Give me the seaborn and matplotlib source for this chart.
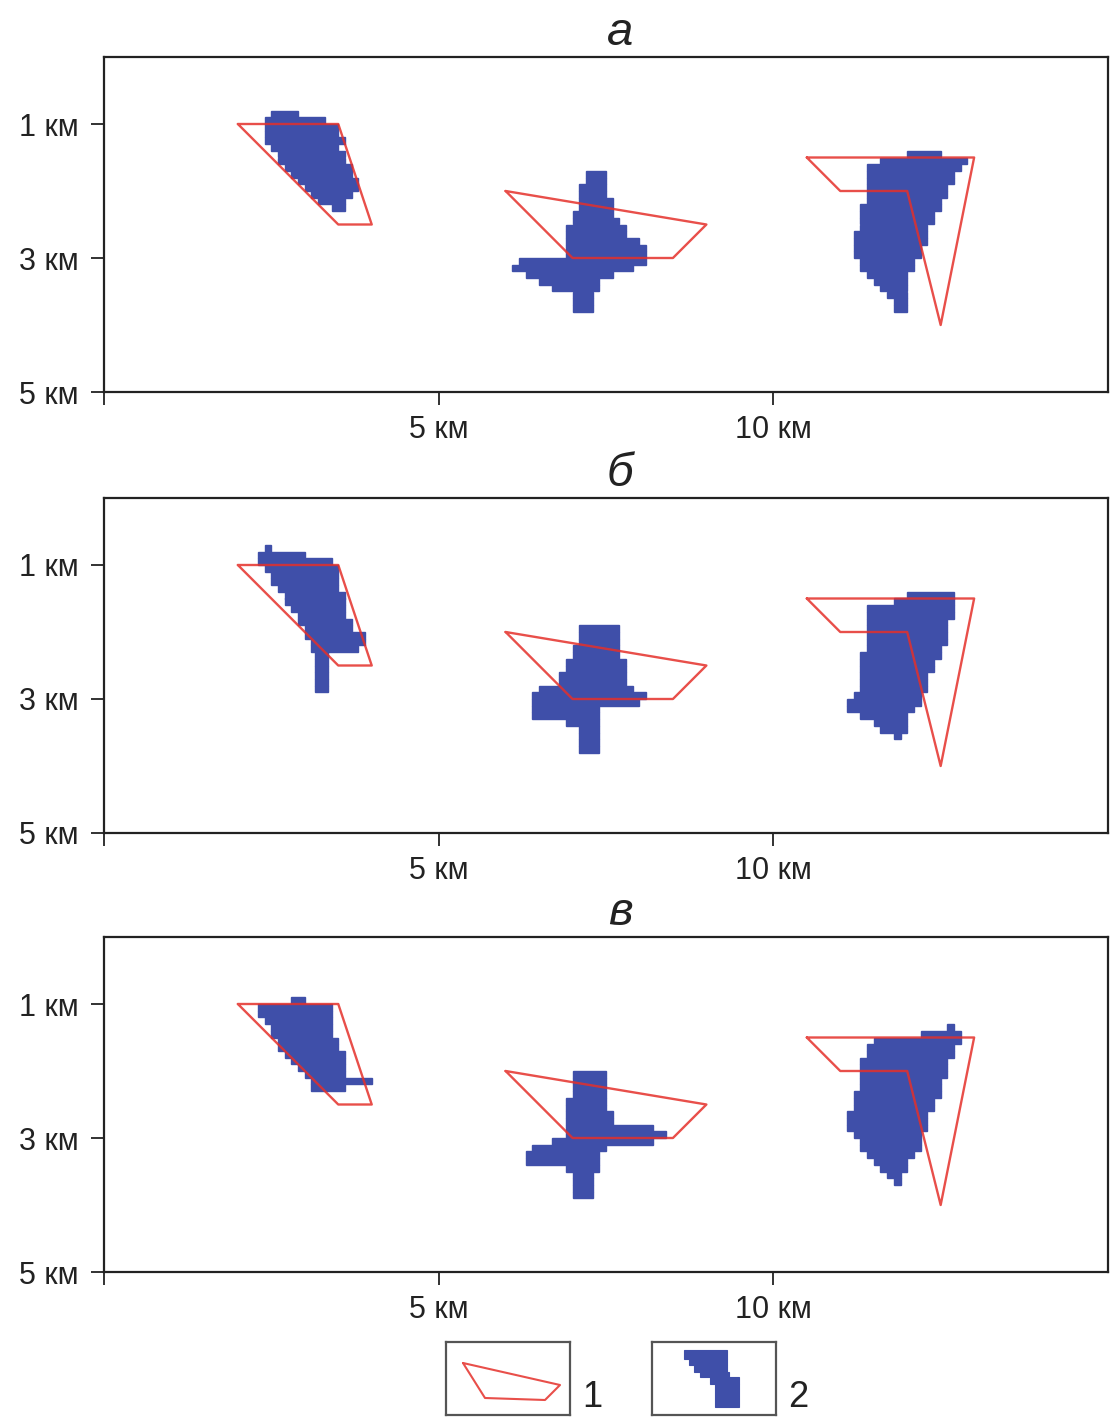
import numpy as np
import matplotlib
matplotlib.use('Agg')
import matplotlib.pyplot as plt
import seaborn as sns

# style
sns.set_style('white')
plt.rcParams['font.family'] = ['Liberation Sans', 'DejaVu Sans']

RED = '#e5302a'
BLUE = '#3f4fa9'
INK = '#222222'

# ---- model bodies (red outlines), km; same in every panel ----
body1_x = [2, 3.5, 4, 3.5, 2]
body1_z = [1, 1, 2.5, 2.5, 1]
body2_x = [6, 9, 8.5, 7, 6]
body2_z = [2, 2.5, 3, 3, 2]
body3_x = [10.5, 13, 12.5, 12, 11, 10.5]
body3_z = [1.5, 1.5, 4, 2, 2, 1.5]

# ---- inversion results (blue cells), rows of 0.1 km: top depth, left/right edge ----
# panel a
a1_top = 0.8
a1_x0 = [2.5, 2.4, 2.4, 2.4, 2.4, 2.5, 2.6, 2.6, 2.7, 2.8, 2.9, 3.0, 3.1, 3.2, 3.4]
a1_x1 = [2.9, 3.3, 3.5, 3.5, 3.6, 3.5, 3.6, 3.6, 3.7, 3.7, 3.8, 3.8, 3.7, 3.6, 3.6]
a2_top = 1.7
a2_x0 = [7.2, 7.2, 7.1, 7.1, 7.1, 7.1, 7.0, 7.0, 6.9, 6.9, 6.9, 6.9, 6.9, 6.2, 6.1, 6.3, 6.5, 6.7, 7.0, 7.0, 7.0]
a2_x1 = [7.5, 7.5, 7.5, 7.5, 7.6, 7.6, 7.6, 7.7, 7.8, 7.8, 8.0, 8.1, 8.1, 8.1, 7.9, 7.6, 7.4, 7.4, 7.3, 7.3, 7.3]
a3_top = 1.4
a3_x0 = [12.0, 11.6, 11.4, 11.4, 11.4, 11.4, 11.4, 11.4, 11.3, 11.3, 11.3, 11.3,
         11.2, 11.2, 11.2, 11.2, 11.3, 11.3, 11.4, 11.5, 11.6, 11.7, 11.8, 11.8]
a3_x1 = [12.5, 12.9, 12.8, 12.7, 12.7, 12.6, 12.6, 12.5, 12.5, 12.4, 12.4, 12.3,
         12.3, 12.3, 12.2, 12.2, 12.1, 12.1, 12.0, 12.0, 12.0, 12.0, 12.0, 12.0]
# panel b
b1_top = 0.7
b1_x0 = [2.4, 2.3, 2.3, 2.4, 2.5, 2.5, 2.6, 2.7, 2.7, 2.8, 2.9, 2.9, 3.0, 3.0, 3.1, 3.1,
         3.15, 3.15, 3.15, 3.15, 3.15, 3.15]
b1_x1 = [2.5, 3.0, 3.4, 3.5, 3.5, 3.5, 3.5, 3.6, 3.6, 3.6, 3.6, 3.7, 3.7, 3.9, 3.9, 3.8,
         3.35, 3.35, 3.35, 3.35, 3.35, 3.35]
b2_top = 1.9
b2_x0 = [7.1, 7.1, 7.1, 7.0, 7.0, 6.9, 6.9, 6.8, 6.8, 6.5, 6.4, 6.4, 6.4, 6.4, 6.9, 7.1, 7.1, 7.1, 7.1]
b2_x1 = [7.7, 7.7, 7.7, 7.7, 7.7, 7.8, 7.8, 7.8, 7.8, 7.9, 8.1, 8.0, 7.4, 7.4, 7.4, 7.4, 7.4, 7.4, 7.4]
b3_top = 1.4
b3_x0 = [12.0, 11.8, 11.4, 11.4, 11.4, 11.4, 11.4, 11.4, 11.4, 11.3, 11.3,
         11.3, 11.3, 11.3, 11.3, 11.2, 11.1, 11.1, 11.3, 11.5, 11.6, 11.8]
b3_x1 = [12.7, 12.7, 12.7, 12.7, 12.6, 12.6, 12.6, 12.6, 12.5, 12.5, 12.4,
         12.4, 12.3, 12.3, 12.3, 12.2, 12.2, 12.1, 12.0, 12.0, 12.0, 11.9]
# panel v
v1_top = 0.9
v1_x0 = [2.8, 2.3, 2.3, 2.4, 2.5, 2.5, 2.6, 2.6, 2.7, 2.8, 2.9, 3.0, 3.1, 3.1]
v1_x1 = [3.0, 3.4, 3.4, 3.4, 3.4, 3.4, 3.5, 3.5, 3.6, 3.6, 3.6, 3.6, 4.0, 3.6]
v2_top = 2.0
v2_x0 = [7.0, 7.0, 7.0, 7.0, 6.9, 6.9, 6.9, 6.9, 6.9, 6.9, 6.7, 6.4, 6.3, 6.3, 6.9, 7.0, 7.0, 7.0, 7.0]
v2_x1 = [7.5, 7.5, 7.5, 7.5, 7.5, 7.5, 7.6, 7.6, 8.2, 8.4, 8.2, 7.5, 7.4, 7.4, 7.4, 7.3, 7.3, 7.3, 7.3]
v3_top = 1.3
v3_x0 = [12.6, 12.2, 11.5, 11.4, 11.4, 11.3, 11.3, 11.3, 11.3, 11.3, 11.2, 11.2,
         11.2, 11.1, 11.1, 11.1, 11.2, 11.3, 11.3, 11.4, 11.5, 11.6, 11.7, 11.8]
v3_x1 = [12.7, 12.8, 12.8, 12.7, 12.7, 12.6, 12.6, 12.6, 12.5, 12.5, 12.5, 12.4,
         12.4, 12.3, 12.3, 12.3, 12.2, 12.2, 12.2, 12.1, 12.0, 12.0, 11.9, 11.9]

panel_titles = ['а', 'б', 'в']
panel_shapes = [
    [(a1_top, a1_x0, a1_x1), (a2_top, a2_x0, a2_x1), (a3_top, a3_x0, a3_x1)],
    [(b1_top, b1_x0, b1_x1), (b2_top, b2_x0, b2_x1), (b3_top, b3_x0, b3_x1)],
    [(v1_top, v1_x0, v1_x1), (v2_top, v2_x0, v2_x1), (v3_top, v3_x0, v3_x1)],
]
cell = 0.1

x_ticks = [0, 5, 10]
x_labels = ['', '5 км', '10 км']
y_ticks = [1, 3, 5]
y_labels = ['1 км', '3 км', '5 км']

# legend glyphs (box-local units)
leg_poly_x = [17, 114, 99, 39, 17]
leg_poly_y = [21, 43, 58, 56, 21]
leg_step_top = [8, 17, 23, 30, 35, 42]
leg_step_bot = [17, 23, 30, 35, 42, 65]
leg_step_x0 = [32, 37, 42, 48, 58, 63]
leg_step_x1 = [75, 75, 75, 77, 87, 87]

W, H = 1110, 1417
fig = plt.figure(figsize=(W / 100, H / 100), dpi=100)

panel_top_px = [57, 498, 937]
for title, shapes, top_px in zip(panel_titles, panel_shapes, panel_top_px):
    ax = fig.add_axes([104 / W, (H - top_px - 335) / H, 1004 / W, 335 / H])

    # blue cells
    for top, x0, x1 in shapes:
        x0 = np.array(x0)
        x1 = np.array(x1)
        z = top + cell * np.arange(len(x0))
        ax.barh(z, x1 - x0, left=x0, height=cell, align='edge',
                color=BLUE, edgecolor=BLUE, linewidth=1.0)

    # red outlines
    for bx, bz in [(body1_x, body1_z), (body2_x, body2_z), (body3_x, body3_z)]:
        sns.lineplot(x=bx, y=bz, sort=False, estimator=None, color=RED,
                     linewidth=1.7, alpha=0.85, ax=ax)

    ax.set_xlim(0, 15)
    ax.set_ylim(5, 0)
    ax.set_xticks(x_ticks)
    ax.set_xticklabels(x_labels)
    ax.set_yticks(y_ticks)
    ax.set_yticklabels(y_labels)
    ax.set_xlabel('')
    ax.set_ylabel('')
    ax.tick_params(bottom=True, left=True, direction='out', length=9.5, width=1.3,
                   colors=INK, labelsize=22)
    ax.tick_params(axis='y', pad=9)
    ax.tick_params(axis='x', pad=7)
    for sp in ax.spines.values():
        sp.set_visible(True)
        sp.set_color(INK)
        sp.set_linewidth(1.6)

    ax.text(0.514, 1 + 12 / 335, title, transform=ax.transAxes, ha='center',
            va='baseline', fontsize=34, style='italic', color=INK)

# legend boxes
for i, (left_px, lab) in enumerate([(446, '1'), (652, '2')]):
    lax = fig.add_axes([left_px / W, 2 / H, 124 / W, 73 / H])
    lax.set_xlim(0, 124)
    lax.set_ylim(73, 0)
    lax.set_xticks([])
    lax.set_yticks([])
    for sp in lax.spines.values():
        sp.set_visible(True)
        sp.set_color('#555555')
        sp.set_linewidth(1.6)
    if i == 0:
        sns.lineplot(x=leg_poly_x, y=leg_poly_y, sort=False, estimator=None,
                     color=RED, linewidth=1.5, alpha=0.85, ax=lax)
    else:
        t = np.array(leg_step_top)
        b = np.array(leg_step_bot)
        x0 = np.array(leg_step_x0)
        x1 = np.array(leg_step_x1)
        lax.barh(t, x1 - x0, left=x0, height=b - t, align='edge',
                 color=BLUE, edgecolor=BLUE, linewidth=0.8)
    lax.set_xlabel('')
    lax.set_ylabel('')
    lax.text(1.1, 0.0, lab, transform=lax.transAxes, ha='left',
             va='bottom', fontsize=26, color=INK)

fig.savefig('out.png', dpi=100)
